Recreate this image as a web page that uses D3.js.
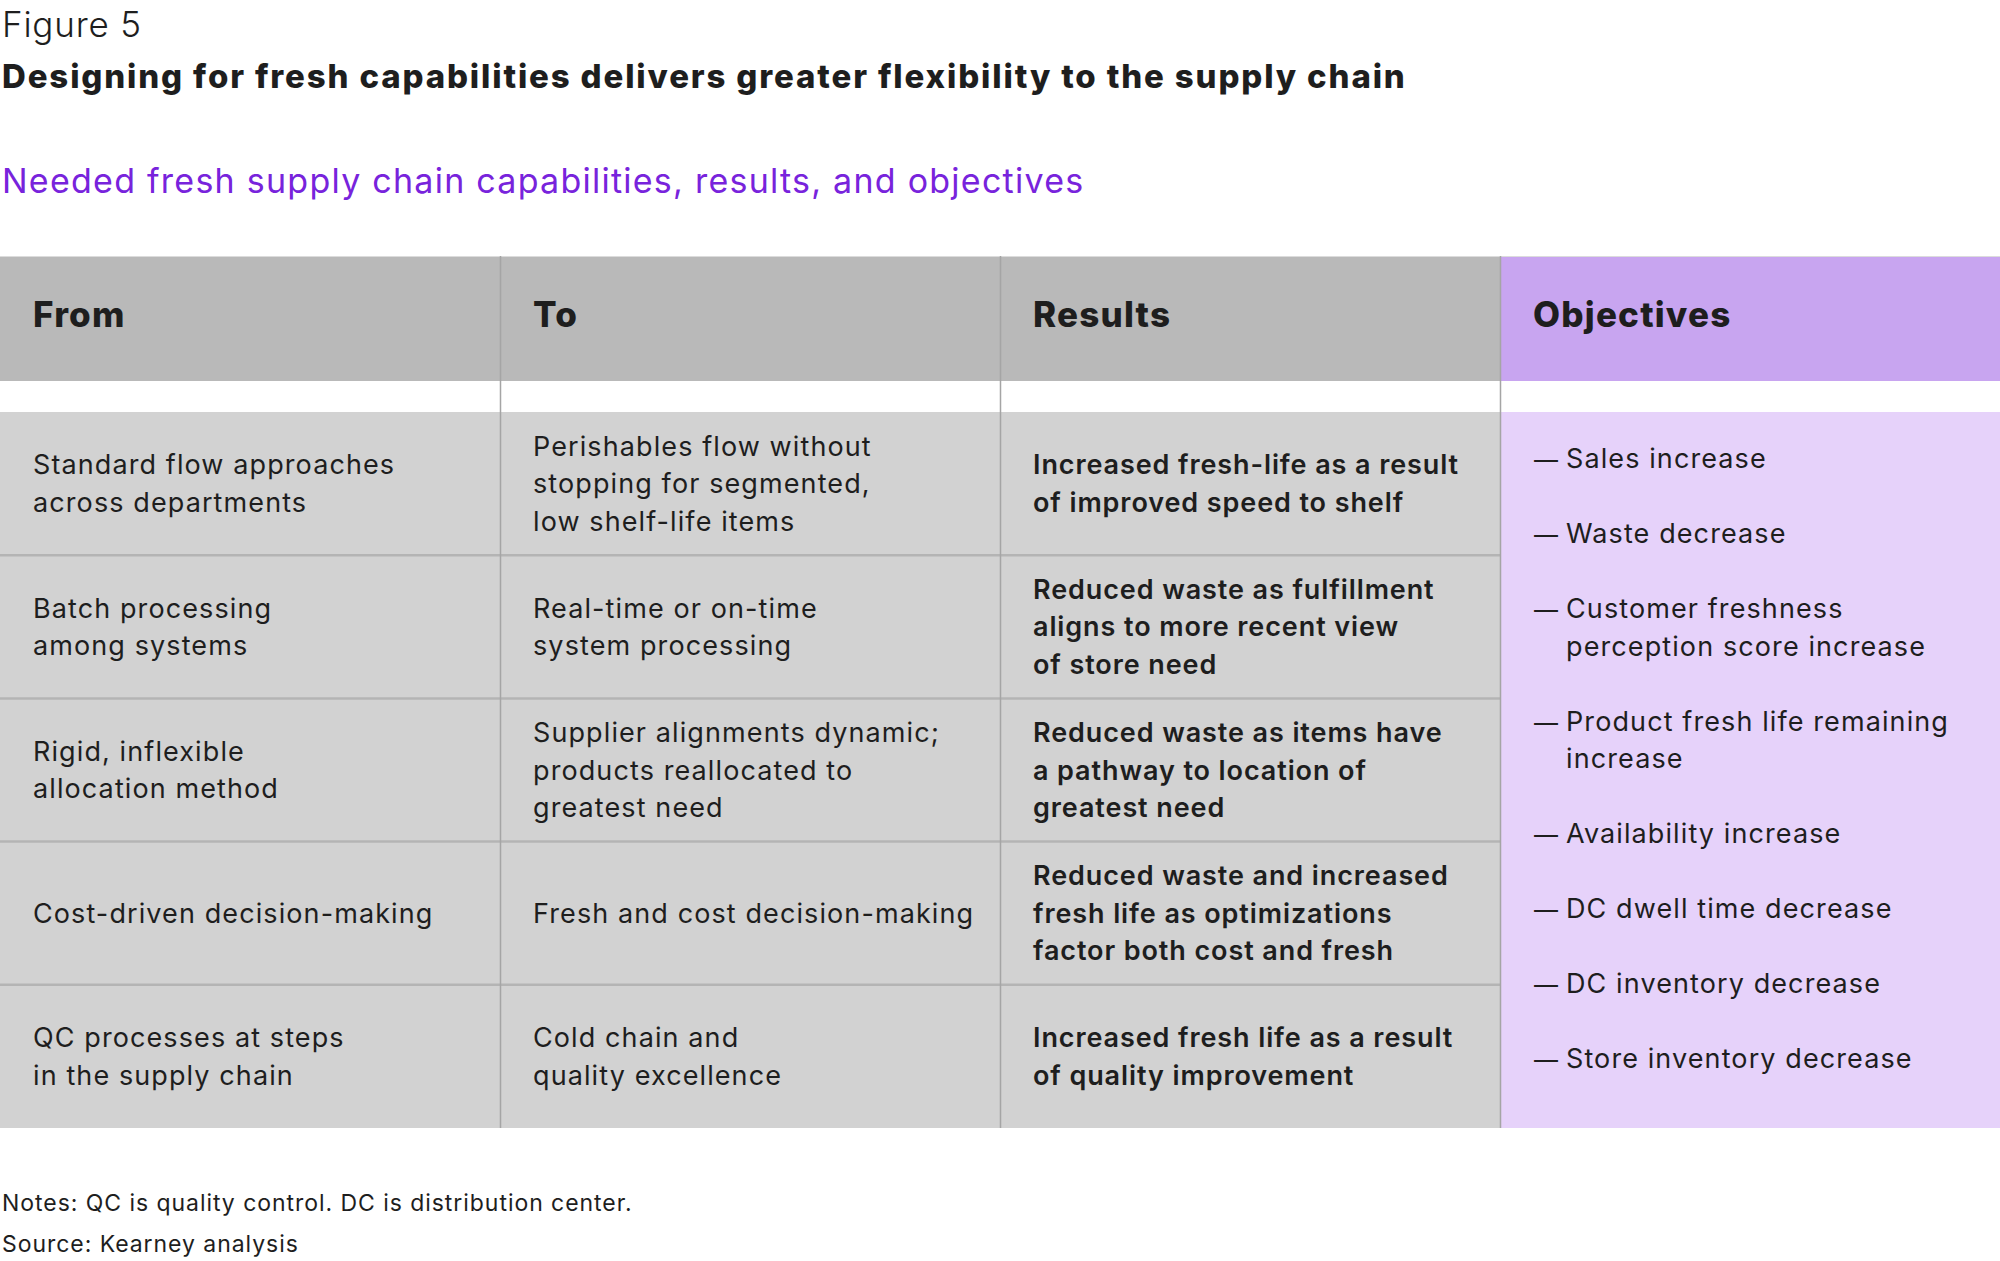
<!DOCTYPE html>
<html>
<head lang="en">
  <meta charset="UTF-8">
<title>Figure 5</title>
<style>
body { margin: 0; background: #fff; }
text { font-family: Inter, Roboto, sans-serif; fill: #1e1e1e; }
.cell { font-size: 27px; letter-spacing: 1.1px; }
.cell.bold { font-weight: 600; letter-spacing: 0.9px; }
</style>
<script src="https://d3js.org/d3.v7.min.js"></script>
</head>
<body>
<div id="vis"></div>
<script>

// table content, line breaks as in the figure
var headers = ["From", "To", "Results", "Objectives"];

var fromItems = [
  ["Standard flow approaches", "across departments"],
  ["Batch processing", "among systems"],
  ["Rigid, inflexible", "allocation method"],
  ["Cost-driven decision-making"],
  ["QC processes at steps", "in the supply chain"]
];

var toItems = [
  ["Perishables flow without", "stopping for segmented,", "low shelf-life items"],
  ["Real-time or on-time", "system processing"],
  ["Supplier alignments dynamic;", "products reallocated to", "greatest need"],
  ["Fresh and cost decision-making"],
  ["Cold chain and", "quality excellence"]
];

var resultItems = [
  ["Increased fresh-life as a result", "of improved speed to shelf"],
  ["Reduced waste as fulfillment", "aligns to more recent view", "of store need"],
  ["Reduced waste as items have", "a pathway to location of", "greatest need"],
  ["Reduced waste and increased", "fresh life as optimizations", "factor both cost and fresh"],
  ["Increased fresh life as a result", "of quality improvement"]
];

var objectives = [
  ["Sales increase"],
  ["Waste decrease"],
  ["Customer freshness", "perception score increase"],
  ["Product fresh life remaining", "increase"],
  ["Availability increase"],
  ["DC dwell time decrease"],
  ["DC inventory decrease"],
  ["Store inventory decrease"]
];

var figLabel = "Figure 5";
var title = "Designing for fresh capabilities delivers greater flexibility to the supply chain";
var subtitle = "Needed fresh supply chain capabilities, results, and objectives";
var notes = ["Notes: QC is quality control. DC is distribution center.", "Source: Kearney analysis"];

var width = 2000, height = 1261;
var headTop = 256, headBottom = 381, bodyTop = 412, bodyBottom = 1128;
var lh = 37.5;   // line height in body
var pad = 33;

var svg = d3.select("#vis").append("svg")
  .attr("width", width)
  .attr("height", height);

var x = d3.scaleBand().domain(headers).range([0, width]);
var y = d3.scaleBand().domain(d3.range(fromItems.length)).range([bodyTop, bodyBottom]);

// header cells
svg.selectAll(".head")
  .data(headers)
  .enter().append("rect")
  .attr("x", function(d) { return x(d); })
  .attr("y", headTop)
  .attr("width", x.bandwidth())
  .attr("height", headBottom - headTop)
  .attr("fill", function(d, i) { return i == 3 ? "#c8a5f0" : "#b9b9b9"; });

svg.append("line")
  .attr("x1", 0).attr("x2", width)
  .attr("y1", headTop + 0.5).attr("y2", headTop + 0.5)
  .attr("stroke", "#dcdcdc");

svg.selectAll(".headText")
  .data(headers)
  .enter().append("text")
  .attr("x", function(d) { return x(d) + pad; })
  .attr("y", 327)
  .attr("font-size", 35)
  .attr("font-weight", 800)
  .style("letter-spacing", "1.2px")
  .text(function(d) { return d; });

// body backgrounds
svg.append("rect")
  .attr("x", 0).attr("y", bodyTop)
  .attr("width", x("Objectives"))
  .attr("height", bodyBottom - bodyTop)
  .attr("fill", "#d2d2d2");

svg.append("rect")
  .attr("x", x("Objectives")).attr("y", bodyTop)
  .attr("width", x.bandwidth())
  .attr("height", bodyBottom - bodyTop)
  .attr("fill", "#e6d2fa");

// row separators
svg.selectAll(".rowline")
  .data(d3.range(1, fromItems.length))
  .enter().append("line")
  .attr("x1", 0).attr("x2", x("Objectives"))
  .attr("y1", function(d) { return y(d); })
  .attr("y2", function(d) { return y(d); })
  .attr("stroke", "#b4b4b4")
  .attr("stroke-width", 2.5);

// column separators
svg.selectAll(".colline")
  .data(headers.slice(1))
  .enter().append("line")
  .attr("x1", function(d) { return x(d) + 0.5; })
  .attr("x2", function(d) { return x(d) + 0.5; })
  .attr("y1", headTop).attr("y2", bodyBottom)
  .attr("stroke", "#a5a5a5")
  .attr("stroke-width", 1.5);

function cellText(items, col, bold) {
  var g = svg.append("g");
  items.forEach(function(lines, i) {
    var cy = y(i) + y.bandwidth() / 2;
    var first = cy - (lines.length - 1) * lh / 2 + 9.5;
    var t = g.append("text")
      .attr("class", bold ? "cell bold" : "cell");
    t.selectAll("tspan")
      .data(lines)
      .enter().append("tspan")
      .attr("x", x(col) + pad)
      .attr("y", function(d, j) { return first + j * lh; })
      .text(function(d) { return d; });
  });
}

cellText(fromItems, "From", false);
cellText(toItems, "To", false);
cellText(resultItems, "Results", true);

// objectives list
var ox = x("Objectives") + 34;
var oy = 468;
objectives.forEach(function(lines) {
  svg.append("text")
    .attr("x", ox).attr("y", oy)
    .attr("font-size", 24)
    .text("\u2014");
  var t = svg.append("text").attr("class", "cell");
  t.selectAll("tspan")
    .data(lines)
    .enter().append("tspan")
    .attr("x", ox + 32)
    .attr("y", function(d, j) { return oy + j * lh; })
    .text(function(d) { return d; });
  oy += lines.length * lh + lh;
});

// titles
svg.append("text")
  .attr("x", 2).attr("y", 37)
  .attr("font-size", 35)
  .attr("font-weight", 300)
  .style("letter-spacing", "0.8px")
  .text(figLabel);

svg.append("text")
  .attr("x", 2).attr("y", 88)
  .attr("font-size", 33)
  .attr("font-weight", 800)
  .style("letter-spacing", "1.85px")
  .text(title);

svg.append("text")
  .attr("x", 2).attr("y", 193)
  .attr("font-size", 34)
  .style("letter-spacing", "1.25px")
  .style("fill", "#7823dc")
  .text(subtitle);

svg.selectAll(".note")
  .data(notes)
  .enter().append("text")
  .attr("x", 2)
  .attr("y", function(d, i) { return 1211 + i * 41; })
  .attr("font-size", 23)
  .style("letter-spacing", "0.95px")
  .text(function(d) { return d; });

</script>
</body>
</html>
